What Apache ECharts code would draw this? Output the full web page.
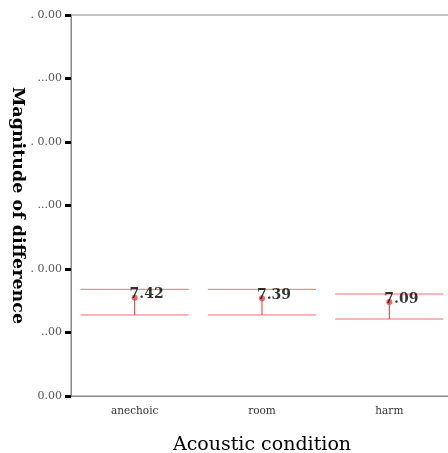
<!DOCTYPE html>
<html><head><meta charset="utf-8">
<script src="https://cdn.jsdelivr.net/npm/echarts@6/dist/echarts.min.js"></script>
<style>html,body{margin:0;padding:0;background:#fff}#c{width:448px;height:453px}</style>
</head><body><div id="c"></div>
<script>
const categories = ['anechoic', 'room', 'harm'];
const categoryLabels = ['anechoic', 'room', 'harm'];
const means = [7.42, 7.39, 7.09];
const upper = [8.40, 8.40, 8.03];
const lower = [6.38, 6.38, 6.06];
const yTickLabels = ['0.00', '..00', '. 0.00', '...00', '. 0.00', '...00', '. 0.00'];

const chart = echarts.init(document.getElementById('c'));
const serif = 'DejaVu Serif';
chart.setOption({
  animation: false,
  grid: { left: 71, top: 15, bottom: 57, right: -5, show: true, borderColor: '#888', borderWidth: 1,
    outerBoundsMode: 'none', containLabel: false },
  xAxis: {
    type: 'category', data: categories,
    name: 'Acoustic condition', nameLocation: 'middle', nameGap: 40,
    nameTextStyle: { fontFamily: serif, fontSize: 19, color: '#000' },
    axisLine: { lineStyle: { color: '#888', width: 1 } },
    axisTick: { alignWithLabel: true, length: 6, lineStyle: { color: '#000', width: 3 } },
    axisLabel: { fontFamily: serif, fontSize: 10.5, color: '#333', margin: 10,
      formatter: (v, i) => categoryLabels[i] }
  },
  yAxis: {
    type: 'value', min: 0, max: 30, interval: 5,
    name: 'Magnitude of difference', nameLocation: 'middle', nameGap: 44, nameRotate: -90,
    nameMoveOverlap: false,
    nameTextStyle: { fontFamily: serif, fontSize: 17.5, fontWeight: 'bold', color: '#000' },
    splitLine: { show: false },
    axisLine: { show: true, lineStyle: { color: '#888', width: 1 } },
    axisTick: { show: true, length: 6, lineStyle: { color: '#000', width: 3 } },
    axisLabel: { fontFamily: serif, fontSize: 11, color: '#555', margin: 9,
      formatter: (v) => yTickLabels[Math.round(v / 5)] }
  },
  series: [
    {
      type: 'custom',
      data: categories.map((c, i) => [i, means[i], upper[i], lower[i]]),
      renderItem: function (params, api) {
        const x = api.value(0);
        const pm = api.coord([x, api.value(1)]);
        const pu = api.coord([x, api.value(2)]);
        const pl = api.coord([x, api.value(3)]);
        const hw = api.size([1, 0])[0] * 0.425;
        return {
          type: 'group',
          children: [
            { type: 'line', shape: { x1: pu[0] - hw, y1: pu[1], x2: pu[0] + hw, y2: pu[1] }, style: { stroke: '#f07070', lineWidth: 1 } },
            { type: 'line', shape: { x1: pl[0] - hw, y1: pl[1], x2: pl[0] + hw, y2: pl[1] }, style: { stroke: '#f07070', lineWidth: 1 } },
            { type: 'line', shape: { x1: pm[0], y1: pm[1] - 4, x2: pl[0], y2: pl[1] }, style: { stroke: '#e83030', lineWidth: 1 } }
          ]
        };
      },
      z: 2
    },
    {
      type: 'scatter',
      data: means.map((m, i) => [i, m]),
      symbol: 'circle', symbolSize: 6, symbolOffset: [0, -4],
      itemStyle: { color: '#f03c3c' },
      label: {
        show: true, position: 'inside', offset: [12, -3],
        formatter: (p) => p.value[1].toFixed(2),
        fontFamily: 'DejaVu Serif', fontWeight: 'bold', fontSize: 14, color: '#000'
      },
      z: 3
    }
  ]
});
</script></body></html>
